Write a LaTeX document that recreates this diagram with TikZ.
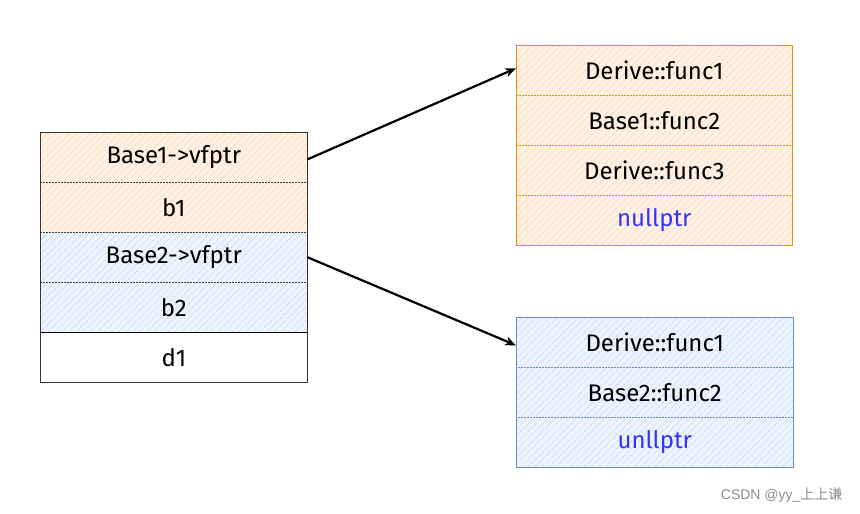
\documentclass[tikz,border=0pt]{standalone}
\usepackage{fontspec}
\setmainfont{Fira Sans}
\newfontfamily\cjk{Noto Sans CJK SC}
\newfontfamily\wmfont{Liberation Sans}
\usetikzlibrary{patterns.meta,arrows.meta}
\definecolor{orfill}{HTML}{FFF1E4}
\definecolor{orhatch}{HTML}{F8D5B5}
\definecolor{orline}{HTML}{D79B00}
\definecolor{blfill}{HTML}{EEF4FD}
\definecolor{blhatch}{HTML}{C4D8F4}
\definecolor{blline}{HTML}{6C8EBF}
\definecolor{ptrblue}{HTML}{3333FF}
\tikzset{
  cell/.style={minimum width=#1, minimum height=50pt, inner sep=0pt, font=\fontsize{24}{26}\selectfont, anchor=north west},
  orcell/.style={cell=276pt, draw=orline, dash pattern=on 2pt off 1pt, line width=0.6pt,
    preaction={fill=orfill},
    pattern={Lines[angle=45,distance=5pt,line width=0.6pt]}, pattern color=orhatch},
  blcell/.style={cell=277pt, draw=blline, dash pattern=on 2pt off 1pt, line width=0.6pt,
    preaction={fill=blfill},
    pattern={Lines[angle=45,distance=5pt,line width=0.6pt]}, pattern color=blhatch},
  lorcell/.style={cell=267pt, draw=black!75, dash pattern=on 2pt off 1pt, line width=0.6pt,
    preaction={fill=orfill},
    pattern={Lines[angle=45,distance=5pt,line width=0.6pt]}, pattern color=orhatch},
  lblcell/.style={cell=267pt, draw=black!75, dash pattern=on 2pt off 1pt, line width=0.6pt,
    preaction={fill=blfill},
    pattern={Lines[angle=45,distance=5pt,line width=0.6pt]}, pattern color=blhatch},
  lwcell/.style={cell=267pt, draw=black, line width=0.8pt, fill=white},
  ptr/.style={line width=2.2pt, -{Stealth[length=11pt,width=9pt]}},
}
\begin{document}
\begin{tikzpicture}[x=1pt,y=-1pt]
\useasboundingbox (0,0) rectangle (860,514);
% left object
\node[lorcell] (a1) at (40,132) {Base1->vfptr};
\node[lorcell] (a2) at (40,182) {b1};
\node[lblcell] (a3) at (40,232) {Base2->vfptr};
\node[lblcell] (a4) at (40,282) {b2};
\node[lwcell] (a5) at (40,332) {d1};
\draw[black!80, line width=1pt] (a1.north west) rectangle (a5.south east);
% top vtable
\node[orcell] (t1) at (516,45) {Derive::func1};
\node[orcell] (t2) at (516,95) {Base1::func2};
\node[orcell] (t3) at (516,145) {Derive::func3};
\node[orcell, text=ptrblue] (t4) at (516,195) {nullptr};
\draw[orline, line width=1pt] (t1.north west) rectangle (t4.south east);
% bottom vtable
\node[blcell] (u1) at (516,317) {Derive::func1};
\node[blcell] (u2) at (516,367) {Base2::func2};
\node[blcell, text=ptrblue] (u3) at (516,417) {unllptr};
\draw[blline, line width=1pt] (u1.north west) rectangle (u3.south east);
% pointers
\draw[ptr] ([yshift=-2pt]a1.east) -- ([yshift=2pt]t1.west);
\draw[ptr] (a3.east) -- ([yshift=-3pt]u1.west);
% watermark
\node[anchor=east, text=black!45, font=\fontsize{14}{16}\selectfont] (wm) at (846,495) {\wmfont CSDN @yy\_{\cjk 上上谦}};
\end{tikzpicture}
\end{document}
